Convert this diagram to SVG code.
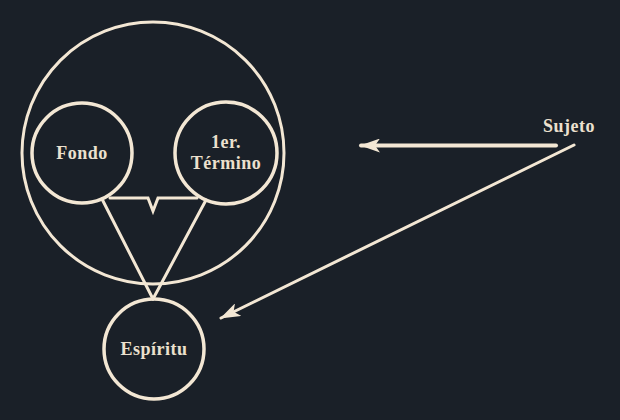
<svg xmlns="http://www.w3.org/2000/svg" width="620" height="420" viewBox="0 0 620 420">
  <style>
    .ring { fill: none; stroke: #f3e7d4; }
    .link { fill: none; stroke: #f3e7d4; stroke-linecap: round; stroke-linejoin: miter; }
    .label { font-family: "Liberation Serif", "Times New Roman", serif; font-weight: bold; font-size: 18px; letter-spacing: 0.5px; fill: #ece0ce; text-anchor: middle; }
  </style>
  <defs>
    <marker id="head" viewBox="0 0 20 14" refX="19" refY="7" markerWidth="20" markerHeight="14" markerUnits="userSpaceOnUse" orient="auto">
      <path d="M0,0 L20,7 L0,14 L5,7 Z" fill="#f3e7d4"/>
    </marker>
  </defs>
  <rect width="620" height="420" fill="#1a2028"/>

  <g id="conciencia">
    <circle class="ring" cx="153" cy="153" r="131" stroke-width="3"/>
  </g>
  <g id="fondo">
    <circle class="ring" cx="82" cy="153" r="50" stroke-width="3.5"/>
    <text class="label" x="82" y="159">Fondo</text>
  </g>
  <g id="termino">
    <circle class="ring" cx="226" cy="153" r="51" stroke-width="3.5"/>
    <text class="label" x="226" y="148">1er.</text>
    <text class="label" x="226" y="169">Término</text>
  </g>
  <g id="espiritu">
    <circle class="ring" cx="154" cy="349" r="50" stroke-width="3.5"/>
    <text class="label" x="154" y="355">Espíritu</text>
  </g>
  <g id="sujeto">
    <text class="label" x="569" y="132">Sujeto</text>
  </g>

  <g id="connectors">
    <polyline class="link" stroke-width="3" stroke-linecap="butt" points="110,198 148,198 153,211 158,198 197,198"/>
    <line class="link" stroke-width="3" x1="102" y1="199" x2="153" y2="299"/>
    <line class="link" stroke-width="3" x1="206" y1="200" x2="153" y2="299"/>
    <line class="link" stroke-width="4" x1="556" y1="145.5" x2="361" y2="145.5" marker-end="url(#head)"/>
    <line class="link" stroke-width="3" x1="574" y1="145" x2="221" y2="318" marker-end="url(#head)"/>
  </g>
</svg>
